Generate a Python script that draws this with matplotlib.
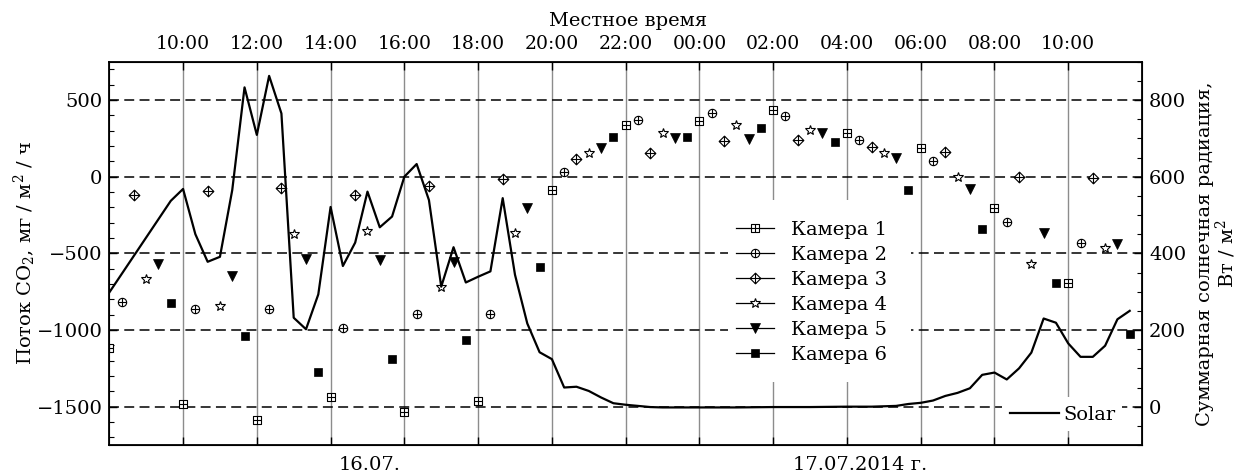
import matplotlib
matplotlib.use("Agg")
import matplotlib.pyplot as plt
from matplotlib.path import Path
from matplotlib.lines import Line2D
from matplotlib.patches import Rectangle
from matplotlib.ticker import MultipleLocator
import numpy as np

plt.rcParams['font.family'] = ['DejaVu Serif']
plt.rcParams['mathtext.fontset'] = 'dejavuserif'

# ---- data: CO2 flux per chamber (mg/m2/h), local time 16.07 08:00 -> 17.07 12:00 ----
cam1_clock = ["08:00", "10:00", "12:00", "14:00", "16:00", "18:00", "20:00",
              "22:00", "00:00", "02:00", "04:00", "06:00", "08:00", "10:00"]
cam1_flux = [-1120, -1483, -1587, -1435, -1537, -1463, -87,
             337, 363, 435, 287, 185, -202, -691]

cam2_clock = ["08:20", "10:20", "12:20", "14:20", "16:20", "18:20", "20:20",
              "22:20", "00:20", "02:20", "04:20", "06:20", "08:20", "10:20"]
cam2_flux = [-815, -863, -863, -989, -898, -898, 33,
             370, 413, 398, 239, 102, -298, -435]

cam3_clock = ["08:40", "10:40", "12:40", "14:40", "16:40", "18:40", "20:40",
              "22:40", "00:40", "02:40", "04:40", "06:40", "08:40", "10:40"]
cam3_flux = [-120, -93, -72, -120, -61, -15, 117,
             152, 235, 239, 196, 159, 0, -11]

cam4_clock = ["09:00", "11:00", "13:00", "15:00", "17:00", "19:00", "21:00",
              "23:00", "01:00", "03:00", "05:00", "07:00", "09:00", "11:00"]
cam4_flux = [-667, -843, -372, -354, -717, -367, 154,
             287, 337, 304, 157, 0, -570, -467]

cam5_clock = ["09:20", "11:20", "13:20", "15:20", "17:20", "19:20", "21:20",
              "23:20", "01:20", "03:20", "05:20", "07:20", "09:20", "11:20"]
cam5_flux = [-572, -648, -539, -543, -559, -204, 185,
             254, 243, 287, 124, -80, -365, -439]

cam6_clock = ["09:40", "11:40", "13:40", "15:40", "17:40", "19:40", "21:40",
              "23:40", "01:40", "03:40", "05:40", "07:40", "09:40", "11:40"]
cam6_flux = [-822, -1037, -1272, -1187, -1065, -589, 261,
             261, 315, 228, -87, -341, -691, -1026]

# ---- data: total solar radiation (W/m2) ----
solar_clock = ["08:00", "09:40", "10:00", "10:20", "10:40", "11:00", "11:20", "11:40",
               "12:00", "12:20", "12:40", "13:00", "13:20", "13:40", "14:00", "14:20",
               "14:40", "15:00", "15:20", "15:40", "16:00", "16:20", "16:40", "17:00",
               "17:20", "17:40", "18:00", "18:20", "18:40", "19:00", "19:20", "19:40",
               "20:00", "20:20", "20:40", "21:00", "21:20", "21:40", "22:00", "22:20",
               "22:40", "23:00", "00:00", "01:00", "02:00", "03:00", "04:00", "04:40",
               "05:00", "05:20", "05:40", "06:00", "06:20", "06:40", "07:00", "07:20",
               "07:40", "08:00", "08:20", "08:40", "09:00", "09:20", "09:40", "10:00",
               "10:20", "10:40", "11:00", "11:20", "11:40"]
solar_wm2 = [298, 537, 568, 450, 378, 391, 565, 833,
             709, 863, 765, 232, 202, 293, 521, 367,
             428, 561, 468, 496, 600, 633, 539, 313,
             416, 324, 339, 353, 544, 344, 217, 142,
             124, 50, 52, 41, 24, 9, 5, 2,
             -1, -2, -2, -2, -1, -1, 0, 0,
             1, 2, 7, 10, 16, 28, 36, 48,
             83, 89, 71, 100, 141, 230, 219, 165,
             130, 130, 159, 228, 250]

top_tick_labels = ["10:00", "12:00", "14:00", "16:00", "18:00", "20:00", "22:00",
                   "00:00", "02:00", "04:00", "06:00", "08:00", "10:00"]
camera_names = ["Камера 1", "Камера 2", "Камера 3", "Камера 4", "Камера 5", "Камера 6"]


def clock_to_hours(clocks):
    """Convert a run of HH:MM strings into hours since 16.07 00:00 (day wraps)."""
    out, day, prev = [], 0.0, -1.0
    for c in clocks:
        h, m = map(int, c.split(':'))
        v = h + m / 60.0
        if v < prev:
            day += 24.0
        prev = v
        out.append(day + v)
    return np.array(out)


# ---- marker shapes ----
M, L, C = Path.MOVETO, Path.LINETO, Path.CLOSEPOLY
cross = Path([(-1, 0), (1, 0), (0, -1), (0, 1)], [M, L, M, L])
square = Path([(-1, -1), (1, -1), (1, 1), (-1, 1), (-1, -1)], [M, L, L, L, C])
diamond = Path([(0, -1), (1, 0), (0, 1), (-1, 0), (0, -1)], [M, L, L, L, C])
square_plus = Path.make_compound_path(square, cross)
circle_plus = Path.make_compound_path(Path.unit_circle(), cross)
diamond_plus = Path.make_compound_path(diamond, cross)

styles = [
    dict(marker=square_plus, ms=5.8, mfc='white', mec='black', mew=0.8),
    dict(marker=circle_plus, ms=6.0, mfc='white', mec='black', mew=0.8),
    dict(marker=diamond_plus, ms=7.7, mfc='white', mec='black', mew=0.8),
    dict(marker='*', ms=7.0, mfc='white', mec='black', mew=0.8),
    dict(marker='v', ms=6.8, mfc='black', mec='black', mew=0.5),
    dict(marker='s', ms=5.8, mfc='black', mec='black', mew=0.5),
]
series = [(cam1_clock, cam1_flux), (cam2_clock, cam2_flux), (cam3_clock, cam3_flux),
          (cam4_clock, cam4_flux), (cam5_clock, cam5_flux), (cam6_clock, cam6_flux)]

W, H = 1241, 476
FS = 14
fig = plt.figure(figsize=(W / 100, H / 100), dpi=100)


def fx(x):
    return x / W


def fy(y):
    return 1 - y / H


ax = fig.add_axes([fx(109.3), fy(445), fx(1142) - fx(109.3), fy(61.7) - fy(445)])
ax.set_xlim(8, 36)
ax.set_ylim(-1750, 750)

# grid: gray verticals every 2 hours, black dashed horizontals every 500
tick_hours = clock_to_hours(top_tick_labels)
ax.set_xticks(tick_hours)
ax.set_xticklabels(top_tick_labels)
for xv in tick_hours:
    ax.axvline(xv, color='#8c8c8c', lw=1.0, zorder=0.5)
for yv in [500, 0, -500, -1000, -1500]:
    ax.axhline(yv, color='black', lw=1.1, ls=(0, (6.5, 3.5)), zorder=0.6)

for (clk, vals), st in zip(series, styles):
    ax.plot(clock_to_hours(clk), vals, ls='none', zorder=3, **st)

ax.yaxis.set_major_locator(MultipleLocator(500))
ax.yaxis.set_minor_locator(MultipleLocator(100))
ax.tick_params(axis='x', which='both', direction='in', top=True, bottom=True,
               labeltop=True, labelbottom=False, length=6, width=1.0, pad=6,
               labelsize=13.5)
ax.tick_params(axis='y', which='major', direction='in', left=True, right=False,
               length=6, width=1.0, pad=5, labelsize=FS)
ax.tick_params(axis='y', which='minor', direction='in', left=True, right=False,
               length=3.5, width=0.8)
for sp in ax.spines.values():
    sp.set_linewidth(1.3)

# solar radiation on the right axis
ax2 = ax.twinx()
ax2.set_ylim(-100, 900)
ax2.set_yticks([0, 200, 400, 600, 800])
ax2.yaxis.set_minor_locator(MultipleLocator(50))
ax2.tick_params(axis='y', which='major', direction='in', length=6, width=1.0,
                pad=5, labelsize=FS)
ax2.tick_params(axis='y', which='minor', direction='in', length=3.5, width=0.8)
ax2.plot(clock_to_hours(solar_clock), solar_wm2, color='black', lw=1.6, zorder=3)

# white patches that hide the grid behind the legends
ax2.add_patch(Rectangle((fx(728), fy(382)), fx(911) - fx(728), fy(200) - fy(382),
                        transform=fig.transFigure, facecolor='white',
                        edgecolor='none', zorder=4))
ax2.add_patch(Rectangle((fx(1002), fy(431)), fx(1122) - fx(1002), fy(397) - fy(431),
                        transform=fig.transFigure, facecolor='white',
                        edgecolor='none', zorder=4))

cam_handles = [Line2D([], [], color='black', lw=0.9, **st) for st in styles]
leg1 = ax2.legend(cam_handles, camera_names, loc='upper left',
                  bbox_to_anchor=(fx(736), fy(221)), bbox_transform=fig.transFigure,
                  frameon=False, fontsize=FS, handlelength=1.95, handletextpad=0.9,
                  labelspacing=0.36, borderpad=0, borderaxespad=0)
ax2.add_artist(leg1)
solar_handle = Line2D([], [], color='black', lw=1.6)
ax2.legend([solar_handle], ["Solar"], loc='upper left',
           bbox_to_anchor=(fx(1010), fy(406)), bbox_transform=fig.transFigure,
           frameon=False, fontsize=FS, handlelength=2.5, handletextpad=0.25,
           borderpad=0, borderaxespad=0)

# labels
fig.text(fx(628), fy(21), "Местное время", ha='center', va='center', fontsize=FS)
fig.text(fx(25), 0.5 * (fy(61.7) + fy(445)), "Поток CO$_2$, мг / м$^2$ / ч",
         rotation=90, ha='center', va='center', fontsize=FS)
fig.text(fx(1217), 0.5 * (fy(61.7) + fy(445)),
         "Суммарная солнечная радиация,\nВт / м$^2$",
         rotation=90, ha='center', va='center', fontsize=FS,
         multialignment='center', linespacing=1.0)
fig.text(fx(370), fy(465), "16.07.", ha='center', va='center', fontsize=FS)
fig.text(fx(860), fy(465), "17.07.2014 г.", ha='center', va='center', fontsize=FS)

fig.savefig("out.png", dpi=100)
